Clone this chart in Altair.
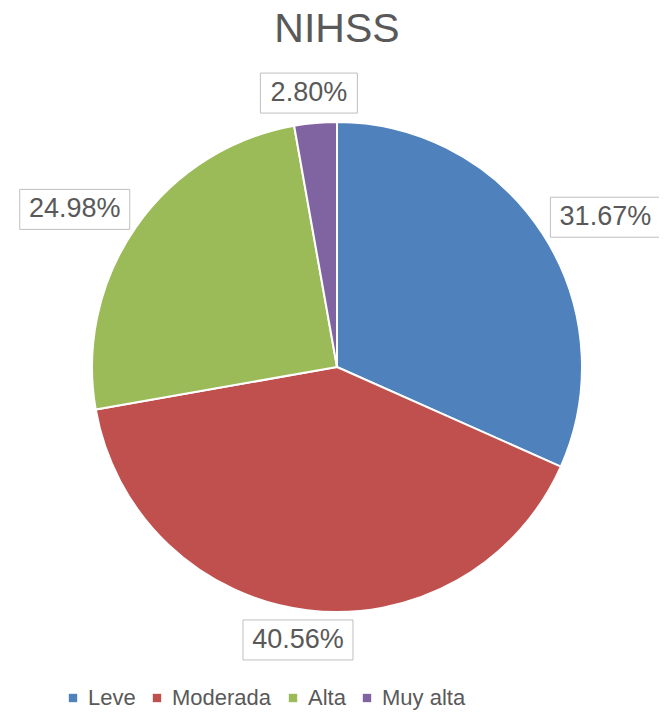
import altair as alt
import pandas as pd

categories = ["Leve", "Moderada", "Alta", "Muy alta"]
values = [31.67, 40.56, 24.98, 2.80]
labels = ["31.67%", "40.56%", "24.98%", "2.80%"]
colors = ["#4F81BD", "#C0504D", "#9BBB59", "#8064A2"]

df = pd.DataFrame({"cat": categories, "value": values, "label": labels, "ord": list(range(len(categories)))})

W, H = 640, 602
FONT = "Liberation Sans"
GRAY = "#595959"

xs = alt.Scale(domain=[-W / 2, W / 2], nice=False, zero=False)
ys = alt.Scale(domain=[-H / 2, H / 2], nice=False, zero=False)

base = alt.Chart(df)

pie = base.mark_arc(outerRadius=245, stroke="white", strokeWidth=2).encode(
    theta=alt.Theta("value:Q", stack=True),
    order=alt.Order("ord:Q"),
    color=alt.Color(
        "cat:N",
        scale=alt.Scale(domain=categories, range=colors),
        sort=categories,
        legend=alt.Legend(
            title=None,
            orient="none",
            legendX=45,
            legendY=621,
            direction="horizontal",
            symbolType="square",
            symbolSize=70,
            symbolStrokeWidth=0,
            labelFontSize=22,
            labelFont=FONT,
            labelColor=GRAY,
            labelOffset=4,
            columnPadding=10,
            padding=0,
        ),
    ),
)

lab = (
    base.transform_joinaggregate(total="sum(value)")
    .transform_window(cum="sum(value)", sort=[alt.SortField("ord")], frame=[None, 0])
    .transform_calculate(
        a="2*PI*(datum.cum - datum.value/2)/datum.total",
        cx="320*sin(datum.a)",
        cy="275*cos(datum.a)",
        hw="6.5*length(datum.label)+16",
    )
    .transform_calculate(
        x1="datum.cx-datum.hw",
        x2="datum.cx+datum.hw",
        y1="datum.cy-20",
        y2="datum.cy+20",
    )
)

boxes = lab.mark_rect(fill="white", stroke="#bfbfbf", strokeWidth=1).encode(
    x=alt.X("x1:Q", scale=xs, axis=None),
    x2="x2:Q",
    y=alt.Y("y1:Q", scale=ys, axis=None),
    y2="y2:Q",
)

texts = lab.mark_text(fontSize=27, font=FONT, color=GRAY).encode(
    x=alt.X("cx:Q", scale=xs, axis=None),
    y=alt.Y("cy:Q", scale=ys, axis=None),
    text="label:N",
)

chart = (
    alt.layer(pie, boxes, texts)
    .properties(
        width=W,
        height=H,
        title=alt.TitleParams(
            "NIHSS", fontSize=41, font=FONT, color=GRAY, fontWeight="normal", anchor="middle", offset=15
        ),
        autosize=alt.AutoSizeParams(type="none"),
        padding={"left": 9, "top": 58, "right": 2, "bottom": 47},
        background="white",
    )
    .configure_view(stroke="transparent", strokeWidth=0)
)

chart.save("out.html", embed_options={"renderer": "svg", "actions": False})
